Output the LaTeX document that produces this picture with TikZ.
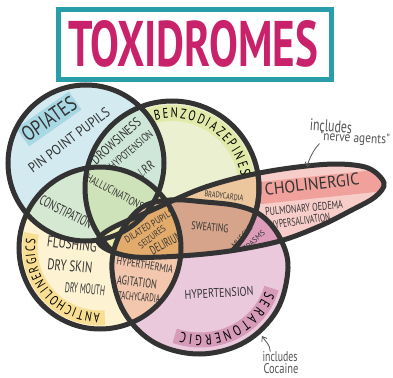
\documentclass[tikz,border=0pt]{standalone}
\usepackage{fontspec}
\setmainfont{PT Sans}
\newfontfamily\narrowfont[FakeStretch=0.75]{PT Sans}
\usepackage{graphicx}
\usetikzlibrary{decorations.text,arrows.meta}
\definecolor{ink}{HTML}{333333}
\definecolor{teal1}{HTML}{2A9DAB}
\definecolor{mag}{HTML}{C8236A}
\definecolor{cO}{HTML}{D2EAF0}
\definecolor{cObar}{HTML}{A8D8E4}
\definecolor{cB}{HTML}{EBF0D1}
\definecolor{cBbar}{HTML}{E1EAA8}
\definecolor{cA}{HTML}{FDF2D2}
\definecolor{cAbar}{HTML}{F8DE92}
\definecolor{cS}{HTML}{EBC9DD}
\definecolor{cSbar}{HTML}{D59BB9}
\definecolor{cC}{HTML}{F6CDC9}
\definecolor{cCbar}{HTML}{F0A19C}
\definecolor{cOB}{HTML}{CFE7D9}
\definecolor{cOA}{HTML}{D5E9D2}
\definecolor{cOAB}{HTML}{CFE3BB}
\definecolor{cAB}{HTML}{EEEDB0}
\definecolor{cAS}{HTML}{F2C7AD}
\definecolor{cBC}{HTML}{ECC79D}
\definecolor{cBCS}{HTML}{D5A48A}
\definecolor{cCS}{HTML}{DC9CBA}
\definecolor{cACS}{HTML}{E2AB6B}
\definecolor{note}{HTML}{555555}
\newcommand{\fitbox}[3]{\resizebox{#1pt}{#2pt}{\narrowfont #3}}
\tikzset{
  Oshape/.style={insert path={(86,163) circle[radius=78]}},
  Bshape/.style={insert path={(172,188) circle[radius=87]}},
  Ashape/.style={insert path={(100,248) circle[radius=81]}},
  Sshape/.style={insert path={plot[smooth cycle, tension=0.6] coordinates {(288,268) (277,310) (245,342) (200,354) (155,343) (124,312) (112,270) (119,236) (141,208) (170,200) (205,202) (238,206) (262,216) (280,238)}}},
  Cshape/.style={insert path={plot[smooth cycle, tension=0.55] coordinates {(384,183) (375,197) (350,211) (320,226) (280,241) (230,251) (180,256) (135,257) (108,250) (98,240) (112,228) (150,211) (200,189) (245,176) (290,168) (335,164) (368,168)}}},
  outline/.style={draw=ink, line width=5pt},
  lbl/.style={text=ink, inner sep=0pt},
  notetext/.style={text=note, inner sep=0pt},
  notearrow/.style={draw=note, line width=0.8pt, -{Straight Barb[length=4pt,width=6pt]}},
}
\begin{document}
\begin{tikzpicture}[x=1pt,y=-1pt]
\useasboundingbox (0,0) rectangle (393,377);
\fill[white] (0,0) rectangle (393,377);

% title
\node[draw=teal1, line width=4.5pt, fill=white, minimum width=273pt, minimum height=70pt, inner sep=0pt] (title) at (195,44.5) {};
\node[text=mag, inner sep=0pt] (titletext) at (193,44) {\resizebox{250pt}{46pt}{\bfseries TOXIDROMES}};

% fills
\fill[cB,Bshape];
\begin{scope}
  \clip[Bshape];
  \draw[cBbar, line width=16pt] (172,188) ++(250:75) arc[start angle=250, end angle=356, radius=75];
\end{scope}
\fill[cO,Oshape];
\fill[cObar, rotate around={35:(49,119)}] (17,108) rectangle (81,130);
\begin{scope}\clip[Oshape]; \fill[cOB,Bshape];\end{scope}
\fill[cA,Ashape];
\begin{scope}
  \clip[Ashape];
  \draw[cAbar, line width=15pt] (100,248) ++(86:70) arc[start angle=86, end angle=192, radius=70];
\end{scope}
\begin{scope}
  \clip[Ashape];
  \fill[cAB,Bshape];
  \fill[cOA,Oshape];
  \clip[Oshape];
  \fill[cOAB,Bshape];
\end{scope}
\fill[cS,Sshape];
\begin{scope}\clip[Sshape]; \fill[cAS,Ashape];\end{scope}
\begin{scope}
  \clip[Sshape];
  \draw[cSbar, line width=15pt] (200,270) ++(15:74 and 70) arc[start angle=15, end angle=110, x radius=74, y radius=70];
\end{scope}
\fill[cC,Cshape];
\begin{scope}
  \clip[Cshape];
  \fill[cCbar, rotate around={6:(318,187)}] (258,176) rectangle (385,198);
  \fill[cBC,Bshape];
  \fill[cAB,Ashape];
  \clip[Sshape];
  \fill[cCS,Sshape];
  \fill[cBCS,Bshape];
  \fill[cACS,Ashape];
\end{scope}

% outlines
\draw[outline,Oshape];
\draw[outline,Ashape];
\begin{scope}[even odd rule]
  \clip[Sshape] (-5,-5) rectangle (400,400);
  \draw[outline,Bshape];
\end{scope}
\begin{scope}
  \clip[Cshape];
  \draw[outline,Bshape];
\end{scope}
\draw[outline,Sshape];
\draw[outline,Cshape];

% curved labels
\begin{scope}[color=ink]
\path[decorate, decoration={text along path, text align={fit to path},
  text={|\narrowfont\fontsize{14}{14}\selectfont|BENZODIAZEPINES}}]
  (155.07,120.08) arc[start angle=256, end angle=350, radius=70];
\path[decorate, decoration={text along path, text align={fit to path},
  text={|\narrowfont\fontsize{13.5}{14}\selectfont|ANTICHOLINERGICS}}]
  (100,313) arc[start angle=90, end angle=188, radius=65];
\path[decorate, decoration={text along path, text align={fit to path},
  text={|\narrowfont\fontsize{14.5}{15}\selectfont|SERATONERGIC}}]
  (265.24,291.16) arc[start angle=19, end angle=106, x radius=69, y radius=65];
\end{scope}

% straight labels
\node[lbl, rotate=35] (opi) at (49,119) {\fitbox{62}{15}{OPIATES}};
\node[lbl, rotate=37] (pin) at (69,140) {\fitbox{98}{10}{PIN POINT PUPILS}};
\node[lbl, rotate=42] (drow) at (116,141) {\fitbox{62}{9.5}{DROWSINESS}};
\node[lbl, rotate=41] (hypo) at (131,150) {\fitbox{54}{8}{HYPOTENSION}};
\node[lbl, rotate=35] (rr) at (146,170) {\fitbox{19}{9}{$\downarrow$RR}};
\node[lbl, rotate=-28] (hall) at (115,192) {\fitbox{63}{8}{HALLUCINATIONS}};
\node[lbl, rotate=-27] (cons) at (66,212) {\fitbox{57}{10}{CONSTIPATION}};
\node[lbl, rotate=-7] (flu) at (72,244) {\fitbox{50}{11}{FLUSHING}};
\node[lbl, rotate=-5] (drys) at (70,266) {\fitbox{45}{11}{DRY SKIN}};
\node[lbl, rotate=-5] (drym) at (85,289) {\fitbox{40}{10}{DRY MOUTH}};
\node[lbl, rotate=31] (dil) at (149,226) {\fitbox{55}{7}{DILATED PUPILS}};
\node[lbl, rotate=38] (sei) at (152,237) {\fitbox{32}{6.5}{SEIZURES}};
\node[lbl, rotate=29] (del) at (166,243) {\fitbox{35}{9}{DELIRIUM}};
\node[lbl, rotate=-5] (swe) at (210,227) {\fitbox{37}{8}{SWEATING}};
\node[lbl, rotate=-7] (bra) at (224,196) {\fitbox{39}{6}{BRADYCARDIA}};
\node[lbl, rotate=48] (mus) at (242,237) {\fitbox{27}{5.5}{MUSCLE}};
\node[lbl, rotate=42] (spa) at (254,241) {\fitbox{26}{5.5}{SPASMS}};
\node[lbl, rotate=6.5] (cho) at (312,184) {\fitbox{95}{12}{CHOLINERGIC}};
\node[lbl, rotate=5.5] (pul) at (304,208) {\fitbox{78}{8}{PULMONARY OEDEMA}};
\node[lbl, rotate=8] (hsal) at (300,221) {\fitbox{61}{8}{HYPERSALIVATION}};
\node[lbl, rotate=-9] (hyth) at (145,265) {\fitbox{57}{8}{HYPERTHERMIA}};
\node[lbl, rotate=-6.5] (agi) at (137,282) {\fitbox{40}{9}{AGITATION}};
\node[lbl, rotate=-4.6] (tac) at (139,297) {\fitbox{42}{8}{TACHYCARDIA}};
\node[lbl, rotate=3] (hyte) at (219,293) {\fitbox{69}{9}{HYPERTENSION}};

% notes
\node[notetext, rotate=-4] (inc1) at (331,126) {\fitbox{42}{12}{includes}};
\node[notetext, rotate=-3] (nv) at (355,139) {\fitbox{70}{9.5}{"nerve agents"}};
\coordinate (ctip) at (307,167);
\draw[notearrow] (nv.south west) .. controls +(-6,6) and +(2,-8) .. (ctip);
\node[notetext] (inc2) at (280,357) {\fitbox{35}{10}{includes}};
\node[notetext] (coc) at (281,369) {\fitbox{35}{10}{Cocaine}};
\coordinate (stip) at (262,336);
\draw[notearrow] ([xshift=8pt]inc2.north west) .. controls +(0,-7) and +(3,5) .. (stip);
\end{tikzpicture}
\end{document}
